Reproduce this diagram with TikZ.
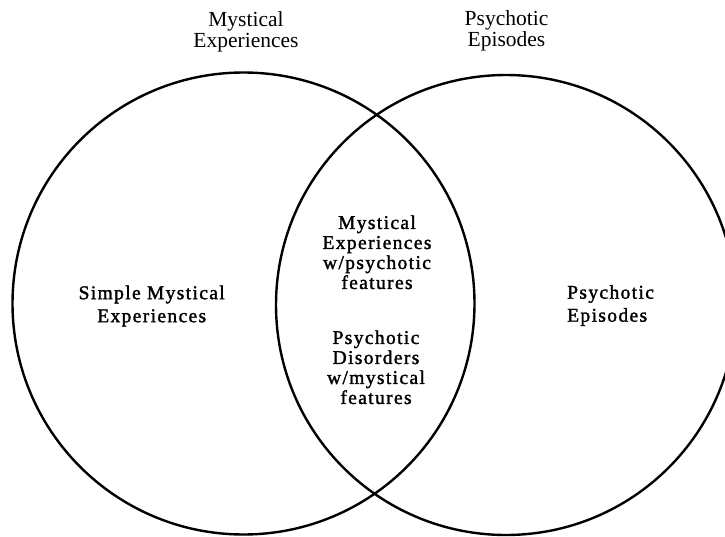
\documentclass[tikz,border=0pt]{standalone}
\usepackage{fontspec}
\setmainfont{Liberation Serif}
\newfontfamily\innerfont[LetterSpace=7,FakeBold=1.6]{Liberation Serif}
\begin{document}
\begin{tikzpicture}[x=1pt,y=-1pt,
  ring/.style={draw=black,line width=2.4pt},
  toplabel/.style={inner sep=0pt,align=center,font=\fontsize{21.5}{21}\selectfont},
  innerlabel/.style={inner sep=0pt,align=center,font=\innerfont\fontsize{19.5}{20}\selectfont},
  sidelabel/.style={inner sep=0pt,font=\innerfont\fontsize{19.5}{23}\selectfont}]
\useasboundingbox (0,0) rectangle (725,537);
\clip (0,0) rectangle (725,537);
\draw[ring] (243.5,303.5) circle[radius=231];
\draw[ring] (506,305) circle[radius=230];
\node[toplabel] (tl) at (246,31.5) {Mystical\\Experiences};
\node[toplabel] (tr) at (506.5,31.2) {Psychotic\\Episodes};
\node[sidelabel,align=center] (sl) at (151.7,306) {Simple Mystical\\Experiences};
\node[sidelabel,align=left,anchor=west] (sr) at (567,305.5) {Psychotic\\Episodes};
\node[innerlabel] (m1) at (377,252.3) {Mystical\\Experiences\\w/psychotic\\features};
\node[innerlabel] (m2) at (376,367.3) {Psychotic\\Disorders\\w/mystical\\features};
\end{tikzpicture}
\end{document}
